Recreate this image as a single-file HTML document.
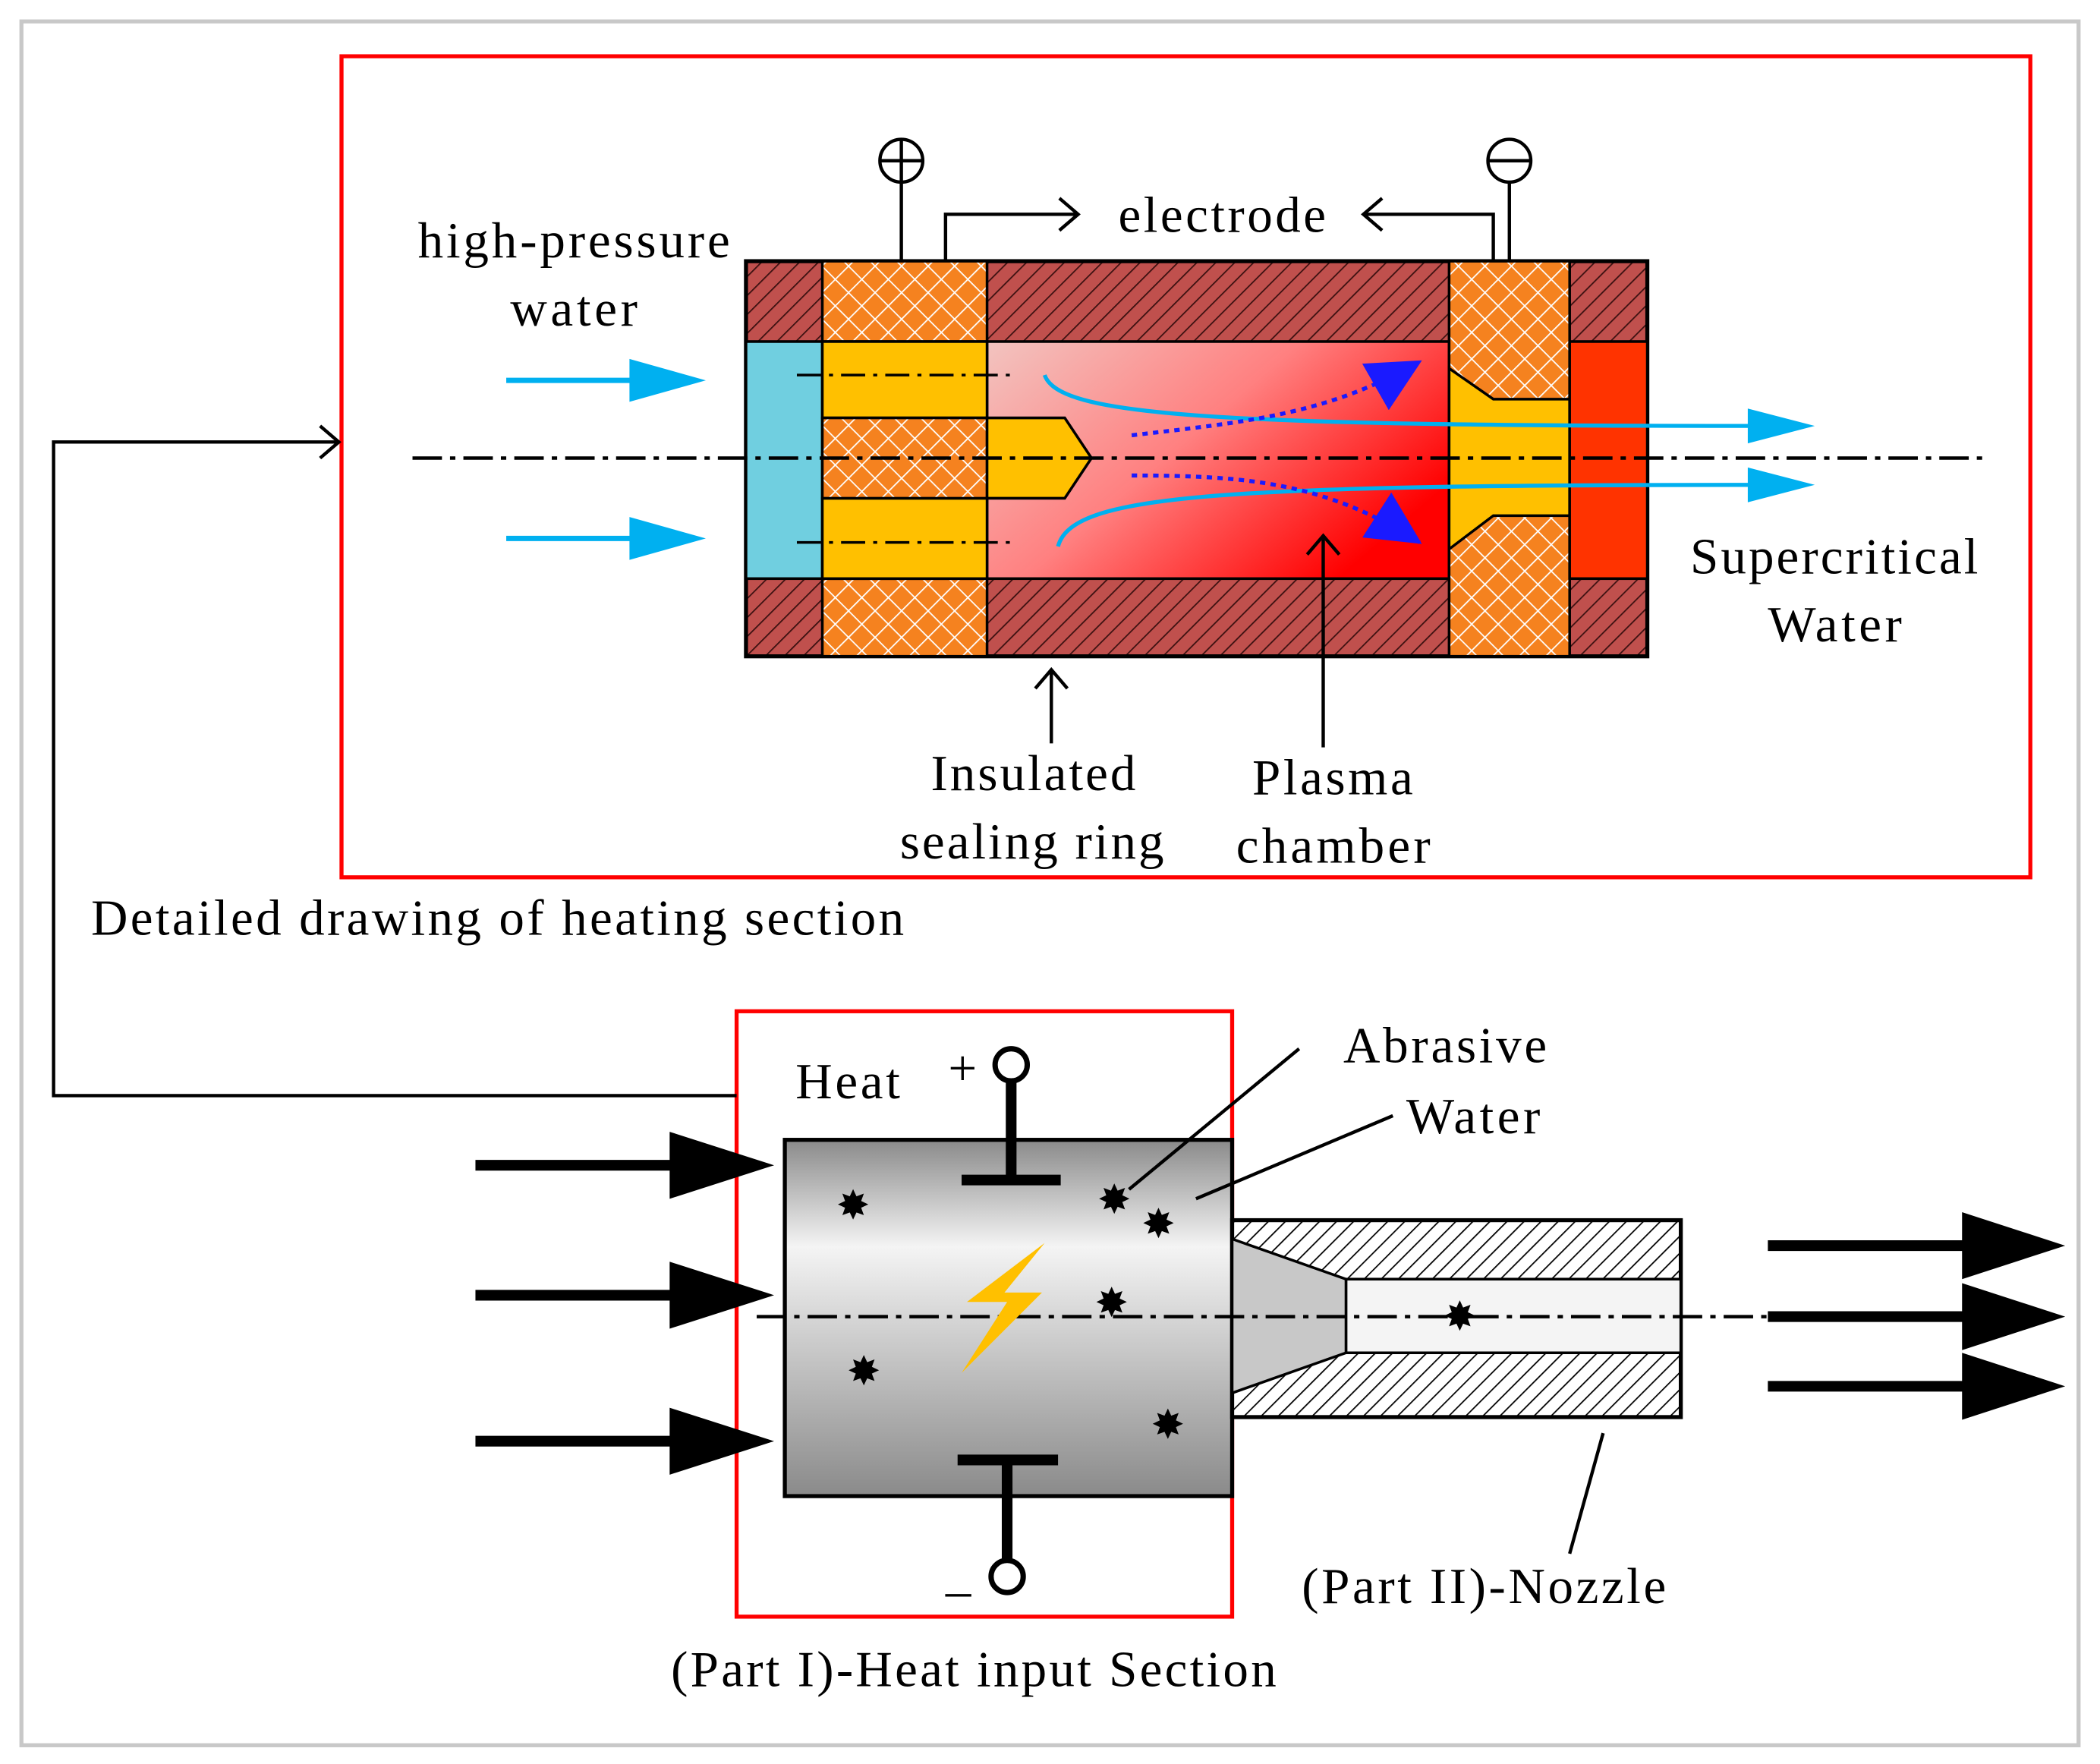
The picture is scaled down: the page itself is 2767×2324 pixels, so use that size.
<!DOCTYPE html>
<html><head><meta charset="utf-8"><style>
html,body{margin:0;padding:0;background:#fff}
svg{display:block}
text{font-family:"Liberation Serif",serif;fill:#000}
</style></head><body>
<svg width="2767" height="2324" viewBox="0 0 1568 1317" preserveAspectRatio="none" xmlns="http://www.w3.org/2000/svg">
<defs>
<pattern id="hatch" width="10" height="10" patternUnits="userSpaceOnUse" patternTransform="rotate(45)">
<rect width="10" height="10" fill="#c0504d"/><line x1="0" y1="0" x2="0" y2="10" stroke="#3a1010" stroke-width="2"/></pattern>
<pattern id="cross" width="14" height="14" patternUnits="userSpaceOnUse" patternTransform="rotate(45)">
<rect width="14" height="14" fill="#f5821f"/><line x1="0" y1="0" x2="0" y2="14" stroke="#fff" stroke-width="2"/><line x1="0" y1="0" x2="14" y2="0" stroke="#fff" stroke-width="2"/></pattern>
<pattern id="bw" width="9" height="9" patternUnits="userSpaceOnUse" patternTransform="rotate(45)">
<rect width="9" height="9" fill="#fff"/><line x1="0" y1="0" x2="0" y2="9" stroke="#000" stroke-width="2"/></pattern>
<linearGradient id="cham" x1="0" y1="0" x2="1" y2="0.6">
<stop offset="0" stop-color="#f2c4c0"/><stop offset="0.5" stop-color="#ff8080"/><stop offset="1" stop-color="#ff0000"/></linearGradient>
<linearGradient id="gray" x1="0" y1="0" x2="0" y2="1">
<stop offset="0" stop-color="#8a8a8a"/><stop offset="0.3" stop-color="#f4f4f4"/><stop offset="1" stop-color="#8a8a8a"/></linearGradient>
<marker id="open" markerWidth="18" markerHeight="26" refX="16" refY="13" orient="auto" markerUnits="userSpaceOnUse"><path d="M2,1 L16,13 L2,25" fill="none" stroke="#000" stroke-width="2.5"/></marker>
<marker id="bl" markerWidth="40" markerHeight="40" refX="38" refY="20" orient="auto" markerUnits="userSpaceOnUse"><path d="M0,0 L40,20 L0,40 z" fill="#1a1aff"/></marker>
</defs>
<rect x="16" y="16" width="1536" height="1287" fill="none" stroke="#c8c8c8" stroke-width="3"/>
<rect x="255" y="42" width="1261" height="613" fill="none" stroke="#ff0000" stroke-width="3"/>
<rect x="550" y="755" width="370" height="452" fill="none" stroke="#ff0000" stroke-width="3"/>
<polyline points="550,818 40,818 40,330 253,330" fill="none" stroke="#000" stroke-width="2.5" marker-end="url(#open)"/>
<rect x="557" y="195" width="673" height="295" fill="url(#hatch)" stroke="#000" stroke-width="3"/>
<rect x="737" y="255" width="345" height="177" fill="url(#cham)" stroke="#000" stroke-width="2"/>
<rect x="614" y="195" width="123" height="60" fill="url(#cross)" stroke="#000" stroke-width="2"/>
<rect x="614" y="432" width="123" height="58" fill="url(#cross)" stroke="#000" stroke-width="2"/>
<rect x="1082" y="195" width="90" height="295" fill="url(#cross)" stroke="#000" stroke-width="2"/>
<rect x="557" y="255" width="57" height="177" fill="#70cfe0" stroke="#000" stroke-width="2"/>
<rect x="614" y="255" width="123" height="57" fill="#ffc000" stroke="#000" stroke-width="2"/>
<rect x="614" y="372" width="123" height="60" fill="#ffc000" stroke="#000" stroke-width="2"/>
<rect x="614" y="312" width="123" height="60" fill="url(#cross)" stroke="#000" stroke-width="2"/>
<path d="M737,312 L795,312 L815,342 L795,372 L737,372 z" fill="#ffc000" stroke="#000" stroke-width="2"/>
<path d="M1082,275 L1115,298 L1172,298 L1172,385 L1115,385 L1082,410 z" fill="#ffc000" stroke="#000" stroke-width="2"/>
<rect x="1172" y="255" width="58" height="177" fill="#ff3300" stroke="#000" stroke-width="2"/>
<line x1="308" y1="342" x2="1480" y2="342" stroke="#000" stroke-width="2.5" stroke-dasharray="22,6,4,6"/>
<line x1="595" y1="280" x2="760" y2="280" stroke="#000" stroke-width="2" stroke-dasharray="18,6,3,6"/>
<line x1="595" y1="405" x2="760" y2="405" stroke="#000" stroke-width="2" stroke-dasharray="18,6,3,6"/>
<g stroke="#00b0f0" stroke-width="4" fill="#00b0f0">
<line x1="378" y1="284" x2="475" y2="284"/><path d="M470,268 L527,284 L470,300 z" stroke="none"/>
<line x1="378" y1="402" x2="475" y2="402"/><path d="M470,386 L527,402 L470,418 z" stroke="none"/>
<path d="M780,280 C790,310 900,318 1310,318" fill="none" stroke-width="3"/><path d="M1305,305 L1355,318 L1305,331 z" stroke="none"/>
<path d="M790,408 C800,370 900,362 1310,362" fill="none" stroke-width="3"/><path d="M1305,349 L1355,362 L1305,375 z" stroke="none"/>
</g>
<path d="M845,325 C930,315 990,310 1060,270" fill="none" stroke="#1a1aff" stroke-width="3" stroke-dasharray="4,4" marker-end="url(#bl)"/>
<path d="M845,355 C930,355 990,360 1060,405" fill="none" stroke="#1a1aff" stroke-width="3" stroke-dasharray="4,4" marker-end="url(#bl)"/>
<g stroke="#000" stroke-width="2.5" fill="none">
<circle cx="673" cy="120" r="16"/><line x1="657" y1="120" x2="689" y2="120"/><line x1="673" y1="104" x2="673" y2="195"/>
<circle cx="1127" cy="120" r="16"/><line x1="1111" y1="120" x2="1143" y2="120"/><line x1="1127" y1="136" x2="1127" y2="195"/>
<polyline points="706,195 706,160 805,160" marker-end="url(#open)"/>
<polyline points="1115,195 1115,160 1018,160" marker-end="url(#open)"/>
<line x1="785" y1="555" x2="785" y2="500" marker-end="url(#open)"/>
<line x1="988" y1="558" x2="988" y2="400" marker-end="url(#open)"/>
</g>
<g font-size="38" lengthAdjust="spacing">
<text x="312" y="192" textLength="233" lengthAdjust="spacing">high-pressure</text>
<text x="381" y="243" textLength="95" lengthAdjust="spacing">water</text>
<text x="835" y="173" textLength="155" lengthAdjust="spacing">electrode</text>
<text x="1262" y="428" textLength="215" lengthAdjust="spacing">Supercritical</text>
<text x="1320" y="479" textLength="100" lengthAdjust="spacing">Water</text>
<text x="695" y="590" textLength="153" lengthAdjust="spacing">Insulated</text>
<text x="672" y="641" textLength="197" lengthAdjust="spacing">sealing ring</text>
<text x="935" y="593" textLength="120" lengthAdjust="spacing">Plasma</text>
<text x="923" y="644" textLength="145" lengthAdjust="spacing">chamber</text>
<text x="68" y="698" textLength="607" lengthAdjust="spacing">Detailed drawing of heating section</text>
<text x="594" y="820" textLength="78" lengthAdjust="spacing">Heat</text>
<text x="1003" y="793" textLength="152" lengthAdjust="spacing">Abrasive</text>
<text x="1050" y="846" textLength="100" lengthAdjust="spacing">Water</text>
<text x="972" y="1197" textLength="272" lengthAdjust="spacing">(Part II)-Nozzle</text>
<text x="501" y="1259" textLength="452" lengthAdjust="spacing">(Part I)-Heat input Section</text>
<text x="708" y="810">+</text>
<text x="706" y="1200">–</text>
</g>
<rect x="586" y="851" width="334" height="266" fill="url(#gray)" stroke="#000" stroke-width="3"/>
<rect x="920" y="911" width="335" height="147" fill="url(#bw)" stroke="#000" stroke-width="3"/>
<rect x="1005" y="955" width="250" height="55" fill="#f4f4f4" stroke="#000" stroke-width="2"/>
<path d="M920,925 L1005,955 L1005,1010 L920,1040 z" fill="#c8c8c8" stroke="#000" stroke-width="2"/>
<line x1="565" y1="983" x2="1320" y2="983" stroke="#000" stroke-width="2.5" stroke-dasharray="22,6,4,6"/>
<g stroke="#000" stroke-width="8">
<line x1="718" y1="881" x2="792" y2="881"/><line x1="755" y1="808" x2="755" y2="881"/>
<line x1="715" y1="1090" x2="790" y2="1090"/><line x1="752" y1="1090" x2="752" y2="1165"/>
<line x1="355" y1="870" x2="505" y2="870"/><line x1="355" y1="967" x2="505" y2="967"/><line x1="355" y1="1076" x2="505" y2="1076"/>
<line x1="1320" y1="930" x2="1470" y2="930"/><line x1="1320" y1="983" x2="1470" y2="983"/><line x1="1320" y1="1035" x2="1470" y2="1035"/>
</g>
<g fill="#000">
<path d="M500,845 L578,870 L500,895 z"/><path d="M500,942 L578,967 L500,992 z"/><path d="M500,1051 L578,1076 L500,1101 z"/>
<path d="M1465,905 L1542,930 L1465,955 z"/><path d="M1465,958 L1542,983 L1465,1008 z"/><path d="M1465,1010 L1542,1035 L1465,1060 z"/>
</g>
<circle cx="755" cy="795" r="12" fill="#fff" stroke="#000" stroke-width="4"/>
<circle cx="752" cy="1177" r="12" fill="#fff" stroke="#000" stroke-width="4"/>
<path d="M780,928 L722,972 L752,972 L718,1025 L778,965 L750,965 z" fill="#ffc000"/>
<g font-size="30" text-anchor="middle" font-family="DejaVu Sans">
<text x="637" y="910">✸</text><text x="832" y="906">✸</text><text x="865" y="924">✸</text><text x="830" y="983">✸</text>
<text x="645" y="1034">✸</text><text x="872" y="1074">✸</text><text x="1090" y="993">✸</text>
</g>
<g stroke="#000" stroke-width="2.5">
<line x1="970" y1="783" x2="843" y2="888"/><line x1="1040" y1="833" x2="893" y2="895"/><line x1="1197" y1="1070" x2="1172" y2="1160"/>
</g>
</svg>
</body></html>
